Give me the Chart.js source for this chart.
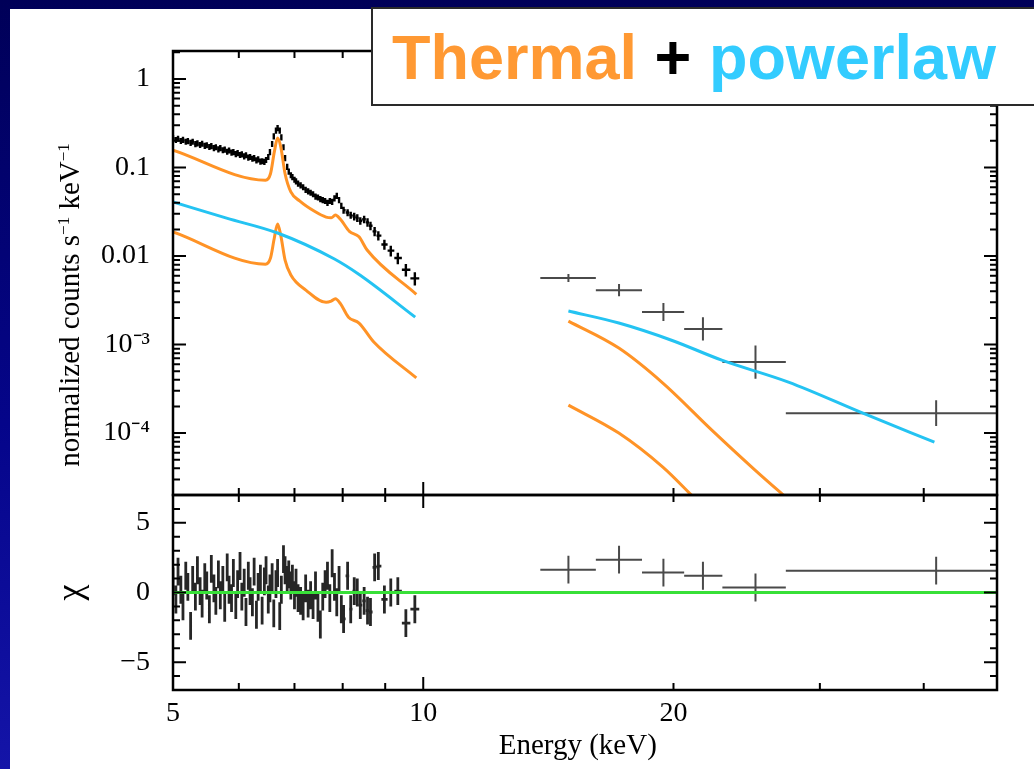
<!DOCTYPE html>
<html>
<head>
<meta charset="utf-8">
<title>Thermal + powerlaw</title>
<script src="https://cdn.jsdelivr.net/npm/chart.js@4.4.0/dist/chart.umd.min.js"></script>
<style>
html, body { margin: 0; padding: 0; }
body {
    width: 1034px; height: 769px; overflow: hidden; position: relative;
    background: linear-gradient(180deg, #000058 0%, #05058a 55%, #1414a8 100%);
}
#panel { position: absolute; left: 10px; top: 9px; right: 0; bottom: 0; background: #fff; }
canvas { position: absolute; left: 0; top: 0; }
#ytitulo {
    position: absolute; left: 69px; top: 305px; width: 420px; height: 34px;
    margin-left: -210px; margin-top: -17px; transform: rotate(-90deg);
    text-align: center; white-space: nowrap; color: #000;
    font: 29px 'Liberation Serif', 'Times New Roman', serif; line-height: 34px;
}
#ytitulo sup { font-size: 17px; line-height: 0; vertical-align: 10px; }
#cartel {
    position: absolute; left: 371px; top: 7px; width: 700px; height: 99px;
    box-sizing: border-box; border: 2px solid #2a2a2a; background: #fff;
}
#cartel div {
    position: absolute; left: 19px; top: 17px; white-space: nowrap;
    font: bold 63px 'Liberation Sans', Arial, sans-serif; line-height: 63px;
}
.naranja { color: #ff9933; }
.cian { color: #33ccff; }
</style>
</head>
<body>
<div id="panel"></div>
<canvas id="graficoEspectro" width="1034" height="500" style="width:1034px;height:500px"></canvas>
<canvas id="graficoResiduos" width="1034" height="769" style="width:1034px;height:769px"></canvas>
<div id="ytitulo">normalized counts s<sup>−1</sup> keV<sup>−1</sup></div>
<div id="cartel"><div><span class="naranja">Thermal</span> + <span class="cian">powerlaw</span></div></div>

<script>
// espectro 5-10 keV (bins)
var eBaja = [5.00,5.04,5.07,5.11,5.14,5.18,5.21,5.25,5.28,5.32,
    5.35,5.39,5.42,5.46,5.49,5.53,5.56,5.60,5.63,5.67,
    5.70,5.74,5.77,5.81,5.84,5.88,5.91,5.95,5.98,6.02,
    6.05,6.09,6.12,6.16,6.19,6.23,6.26,6.30,6.33,6.37,
    6.40,6.44,6.47,6.51,6.54,6.58,6.61,6.65,6.68,6.72,
    6.75,6.79,6.82,6.86,6.89,6.93,6.96,7.00,7.03,7.07,
    7.12,7.17,7.22,7.27,7.32,7.37,7.42,7.47,7.52,7.57,7.62,7.67,7.72,7.77,7.82,7.87,7.92,7.97,
    8.02,8.11,8.18,8.26,8.33,8.40,8.49,8.57,8.64,8.74,8.83,8.98,9.14,9.32,9.53,9.77];
var tasaBaja = [0.215,0.205,0.212,0.200,0.206,0.196,0.199,0.190,0.196,0.184,
    0.188,0.180,0.186,0.176,0.179,0.171,0.175,0.166,0.170,0.161,
    0.166,0.157,0.160,0.151,0.156,0.148,0.150,0.142,0.146,0.139,
    0.141,0.134,0.138,0.130,0.132,0.126,0.128,0.121,0.124,0.117,
    0.118,0.116,0.122,0.132,0.150,0.185,0.225,0.262,0.279,0.262,
    0.220,0.170,0.128,0.102,0.090,0.082,0.078,0.073,0.070,0.066,
    0.063,0.060,0.056,0.054,0.052,0.050,0.047,0.046,0.044,0.043,0.042,0.040,0.042,0.041,0.045,0.048,0.043,0.037,
    0.033,0.031,0.029,0.028,0.027,0.025,0.026,0.024,0.022,0.019,0.017,0.0135,0.0115,0.0095,0.0070,0.0056];
// error relativo de cada bin
var errBaja = [0.08,0.08,0.08,0.08,0.08,0.08,0.08,0.08,0.08,0.08,
    0.08,0.08,0.08,0.08,0.08,0.08,0.08,0.08,0.08,0.08,
    0.08,0.08,0.08,0.08,0.08,0.08,0.08,0.08,0.08,0.08,
    0.08,0.08,0.08,0.08,0.08,0.08,0.08,0.08,0.08,0.08,
    0.08,0.08,0.08,0.08,0.08,0.08,0.08,0.08,0.08,0.08,
    0.08,0.08,0.08,0.08,0.08,0.08,0.08,0.08,0.08,0.08,
    0.08,0.08,0.08,0.08,0.08,0.08,0.08,0.08,0.08,0.08,0.08,0.08,0.08,0.08,0.08,0.08,0.08,0.08,
    0.09,0.09,0.09,0.10,0.10,0.10,0.10,0.11,0.11,0.12,0.12,0.13,0.14,0.15,0.16,0.17];
var chiBaja = [0.8,-0.5,1.5,0.2,-1.0,1.2,0.4,-2.4,0.9,-0.3,
    1.6,0.1,-0.8,1.1,0.5,-1.2,1.7,0.3,-0.6,1.3,
    -0.2,0.9,-1.1,1.8,0.2,-0.4,1.4,-0.9,0.6,1.9,
    -0.3,0.7,-1.4,1.2,0.1,-0.7,1.5,-1.6,0.4,1.0,
    -1.3,0.8,1.6,-0.5,0.3,1.1,-1.5,0.6,1.4,-1.7,
    0.2,2.4,1.6,0.9,1.3,0.5,1.0,-0.2,0.7,-0.4,
    -0.6,-1.0,0.3,-0.8,-0.2,-0.9,0.5,-1.1,-2.3,-0.3,0.6,1.2,-0.4,2.1,0.4,-0.7,0.9,-1.2,
    -1.9,1.2,-1.2,0.1,0.0,-0.9,-0.6,-1.3,-1.4,1.8,1.9,-0.5,0.0,0.1,-2.2,-1.2];

// bins anchos por encima de 13 keV
var eAlta = [14.95, 17.2, 19.45, 21.7, 25.1, 41.4];
var eAltaMin = [13.83, 16.13, 18.33, 20.6, 22.9, 27.3];
var eAltaMax = [16.13, 18.33, 20.6, 22.9, 27.3, 56];
var tasaAlta = [0.00564, 0.00412, 0.00233, 0.0015, 0.000634, 0.000168];
var tasaAltaMin = [0.00508, 0.00352, 0.00185, 0.00111, 0.000412, 0.00012];
var tasaAltaMax = [0.00626, 0.00482, 0.00294, 0.00203, 0.000976, 0.000235];
var chiAlta = [1.64, 2.36, 1.43, 1.2, 0.36, 1.57];

// modelos: dos componentes termicas y la ley de potencias
var eTermA1 = [5.0, 6.46, 6.55, 6.62, 6.68, 6.74, 6.82, 6.93, 7.1, 7.4, 7.64, 7.75, 7.84, 7.95, 8.15, 8.37, 8.56, 9.81];
var termA1 = [0.157, 0.072, 0.085, 0.150, 0.215, 0.170, 0.085, 0.053, 0.042, 0.032, 0.0275, 0.027, 0.029, 0.026, 0.019, 0.0165, 0.0117, 0.0037];
var eTermA2 = [14.95, 17.19, 19.42, 22.24, 25.07, 27.85];
var termA2 = [0.00184, 0.000912, 0.000367, 0.000108, 0.0000382, 0.000016];
var eTermB1 = [5.0, 6.46, 6.55, 6.62, 6.68, 6.74, 6.82, 6.93, 7.23, 7.64, 7.75, 7.84, 7.95, 8.13, 8.37, 8.72, 9.81];
var termB1 = [0.0187, 0.0081, 0.0095, 0.016, 0.023, 0.017, 0.009, 0.0061, 0.0041, 0.0030, 0.0031, 0.0033, 0.0029, 0.00204, 0.00175, 0.00107, 0.00042];
var eTermB2 = [14.95, 17.19, 19.42, 20.9, 21.5];
var termB2 = [0.000207, 0.0001, 0.0000412, 0.000021, 0.000016];
var ePot1 = [5.0, 5.8, 6.68, 7.82, 8.39, 9.78];
var pot1 = [0.0408, 0.0268, 0.0182, 0.00925, 0.0061, 0.00204];
var ePot2 = [14.95, 17.19, 19.89, 22.86, 27.5, 33.8, 41.2];
var pot2 = [0.00239, 0.00175, 0.00112, 0.000667, 0.000377, 0.000168, 0.000079];

// ejes
var rangoE = [5, 49];
var rangoTasa = [2e-5, 2.07];
var rangoChi = [-7, 7];
var ticksE = [5, 10, 20];
var ticksTasa = [1e-4, 1e-3, 0.01, 0.1, 1];
var etiquetasTasa = ['10⁻⁴', '10⁻³', '0.01', '0.1', '1'];
var ticksChi = [-5, 0, 5];
var etiquetasChi = ['−5', '0', '5'];

var NARANJA = '#ff9326';
var CIAN = '#24c3f2';
var FUENTE = "'Liberation Serif', 'Times New Roman', serif";

Chart.defaults.font.family = FUENTE;
Chart.defaults.color = '#000';

function puntos(xs, ys) {
    return xs.map(function (x, i) { return { x: x, y: ys[i] }; });
}

function bordesBin(i) {
    var n = eBaja.length;
    var izq = i > 0 ? (eBaja[i - 1] + eBaja[i]) / 2 : eBaja[0] - (eBaja[1] - eBaja[0]) / 2;
    var der = i < n - 1 ? (eBaja[i] + eBaja[i + 1]) / 2 : eBaja[n - 1] + (eBaja[n - 1] - eBaja[n - 2]) / 2;
    return [izq, der];
}

function linea(xs, ys, color) {
    return {
        data: puntos(xs, ys), showLine: true, borderColor: color, borderWidth: 3,
        pointRadius: 0, cubicInterpolationMode: 'monotone', fill: false
    };
}

function menoresLog(min, max) {
    var out = [];
    for (var d = -6; d <= 1; d++) {
        for (var m = 2; m <= 9; m++) {
            var v = m * Math.pow(10, d);
            if (v > min && v < max) out.push(v);
        }
    }
    return out;
}

function menoresLin(min, max) {
    var out = [];
    for (var v = Math.ceil(min); v <= max; v++) out.push(v);
    return out;
}

// marco con ticks hacia dentro + barras de error
function crearMarco(cfg) {
    return {
        id: 'marco',
        beforeDatasetsDraw: function (chart) {
            var ctx = chart.ctx, a = chart.chartArea;
            var xs = chart.scales.x, ys = chart.scales.y;
            ctx.save();
            ctx.beginPath();
            ctx.rect(a.left, a.top, a.right - a.left, a.bottom - a.top);
            ctx.clip();
            chart.data.datasets.forEach(function (ds) {
                if (!ds.barras) return;
                ctx.strokeStyle = ds.colorBarra;
                ctx.lineWidth = ds.anchoBarra;
                ctx.beginPath();
                ds.data.forEach(function (p) {
                    var px = xs.getPixelForValue(p.x), py = ys.getPixelForValue(p.y);
                    ctx.moveTo(xs.getPixelForValue(p.xMin), py);
                    ctx.lineTo(xs.getPixelForValue(p.xMax), py);
                    ctx.moveTo(px, ys.getPixelForValue(p.yMin));
                    ctx.lineTo(px, ys.getPixelForValue(p.yMax));
                });
                ctx.stroke();
            });
            ctx.restore();
        },
        afterDraw: function (chart) {
            var ctx = chart.ctx, a = chart.chartArea;
            var xs = chart.scales.x, ys = chart.scales.y;
            ctx.save();
            ctx.strokeStyle = '#000';
            ctx.lineWidth = 2.5;
            ctx.strokeRect(a.left, a.top, a.right - a.left, a.bottom - a.top);
            ctx.lineWidth = 2;
            ctx.beginPath();
            function tx(v, len) {
                var p = xs.getPixelForValue(v);
                ctx.moveTo(p, a.bottom); ctx.lineTo(p, a.bottom - len);
                ctx.moveTo(p, a.top); ctx.lineTo(p, a.top + len);
            }
            function ty(v, len) {
                var p = ys.getPixelForValue(v);
                ctx.moveTo(a.left, p); ctx.lineTo(a.left + len, p);
                ctx.moveTo(a.right, p); ctx.lineTo(a.right - len, p);
            }
            cfg.xMayor.forEach(function (v) { tx(v, 13); });
            cfg.xMenor.forEach(function (v) { tx(v, 7); });
            cfg.yMayor.forEach(function (v) { ty(v, 13); });
            cfg.yMenor.forEach(function (v) { ty(v, 7); });
            ctx.stroke();
            ctx.restore();
        }
    };
}

function sinRelleno(s) {
    s.paddingTop = 0; s.paddingBottom = 0; s.paddingLeft = 0; s.paddingRight = 0;
}

var xMayor = [10];
var xMenor = [6, 7, 8, 9, 20, 30, 40];

function graficoEspectro() {
    var datosBaja = eBaja.map(function (e, i) {
        var b = bordesBin(i);
        return { x: e, y: tasaBaja[i], xMin: b[0], xMax: b[1],
            yMin: tasaBaja[i] * (1 - errBaja[i]), yMax: tasaBaja[i] * (1 + errBaja[i]) };
    });
    var datosAlta = eAlta.map(function (e, i) {
        return { x: e, y: tasaAlta[i], xMin: eAltaMin[i], xMax: eAltaMax[i],
            yMin: tasaAltaMin[i], yMax: tasaAltaMax[i] };
    });

    var ctx = document.getElementById('graficoEspectro').getContext('2d');
    new Chart(ctx, {
        type: 'scatter',
        data: {
            datasets: [
                { data: datosBaja, pointRadius: 0, barras: true, colorBarra: '#000', anchoBarra: 2.4 },
                { data: datosAlta, pointRadius: 0, barras: true, colorBarra: '#4a4a4a', anchoBarra: 2 },
                linea(ePot1, pot1, CIAN),
                linea(ePot2, pot2, CIAN),
                linea(eTermB1, termB1, NARANJA),
                linea(eTermB2, termB2, NARANJA),
                linea(eTermA1, termA1, NARANJA),
                linea(eTermA2, termA2, NARANJA)
            ]
        },
        options: {
            responsive: false,
            animation: false,
            layout: { padding: { left: 0, right: 37, top: 51, bottom: 5 } },
            plugins: { legend: { display: false }, tooltip: { enabled: false } },
            scales: {
                x: {
                    type: 'logarithmic', min: rangoE[0], max: rangoE[1], display: false,
                    afterFit: sinRelleno
                },
                y: {
                    type: 'logarithmic', min: rangoTasa[0], max: rangoTasa[1],
                    grid: { display: false, drawTicks: false },
                    border: { display: false },
                    afterBuildTicks: function (s) {
                        s.ticks = ticksTasa.map(function (v) { return { value: v }; });
                    },
                    afterFit: function (s) { s.width = 173; sinRelleno(s); },
                    ticks: {
                        autoSkip: false, padding: 23, color: '#000',
                        font: { family: FUENTE, size: 28 },
                        callback: function (v, i) { return etiquetasTasa[i]; }
                    }
                }
            }
        },
        plugins: [crearMarco({
            xMayor: xMayor, xMenor: xMenor,
            yMayor: ticksTasa, yMenor: menoresLog(rangoTasa[0], rangoTasa[1])
        })]
    });
}

function graficoResiduos() {
    var datosBaja = eBaja.map(function (e, i) {
        var b = bordesBin(i);
        return { x: e, y: chiBaja[i], xMin: b[0], xMax: b[1], yMin: chiBaja[i] - 1, yMax: chiBaja[i] + 1 };
    });
    var datosAlta = eAlta.map(function (e, i) {
        return { x: e, y: chiAlta[i], xMin: eAltaMin[i], xMax: eAltaMax[i], yMin: chiAlta[i] - 1, yMax: chiAlta[i] + 1 };
    });

    var ctx = document.getElementById('graficoResiduos').getContext('2d');
    new Chart(ctx, {
        type: 'scatter',
        data: {
            datasets: [
                { data: datosBaja, pointRadius: 0, barras: true, colorBarra: 'rgba(0,0,0,0.85)', anchoBarra: 2.8 },
                { data: datosAlta, pointRadius: 0, barras: true, colorBarra: '#4a4a4a', anchoBarra: 2 },
                { data: [{ x: rangoE[0], y: 0 }, { x: rangoE[1], y: 0 }], showLine: true,
                  borderColor: '#38e038', borderWidth: 3, pointRadius: 0 }
            ]
        },
        options: {
            responsive: false,
            animation: false,
            layout: { padding: { left: 0, right: 37, top: 495, bottom: 0 } },
            plugins: { legend: { display: false }, tooltip: { enabled: false } },
            scales: {
                x: {
                    type: 'logarithmic', min: rangoE[0], max: rangoE[1],
                    grid: { display: false, drawTicks: false },
                    border: { display: false },
                    afterBuildTicks: function (s) {
                        s.ticks = ticksE.map(function (v) { return { value: v }; });
                    },
                    afterFit: function (s) { s.height = 79; sinRelleno(s); },
                    ticks: {
                        autoSkip: false, maxRotation: 0, padding: 7, color: '#000',
                        font: { family: FUENTE, size: 28 },
                        callback: function (v, i) { return String(ticksE[i]); }
                    },
                    title: {
                        display: true, text: 'Energy (keV)  ', color: '#000',
                        font: { family: FUENTE, size: 29 },
                        padding: { top: 0, bottom: 5 }
                    }
                },
                y: {
                    type: 'linear', min: rangoChi[0], max: rangoChi[1],
                    grid: { display: false, drawTicks: false },
                    border: { display: false },
                    afterBuildTicks: function (s) {
                        s.ticks = ticksChi.map(function (v) { return { value: v }; });
                    },
                    afterFit: function (s) { s.width = 173; sinRelleno(s); },
                    ticks: {
                        autoSkip: false, padding: 23, color: '#000',
                        font: { family: FUENTE, size: 28 },
                        callback: function (v, i) { return etiquetasChi[i]; }
                    },
                    title: {
                        display: true, text: 'χ', color: '#000',
                        font: { family: FUENTE, size: 36 },
                        padding: { top: 50, bottom: 0 }
                    }
                }
            }
        },
        plugins: [crearMarco({
            xMayor: xMayor, xMenor: xMenor,
            yMayor: ticksChi, yMenor: menoresLin(rangoChi[0], rangoChi[1])
        })]
    });
}

graficoEspectro();
graficoResiduos();
</script>
</body>
</html>
